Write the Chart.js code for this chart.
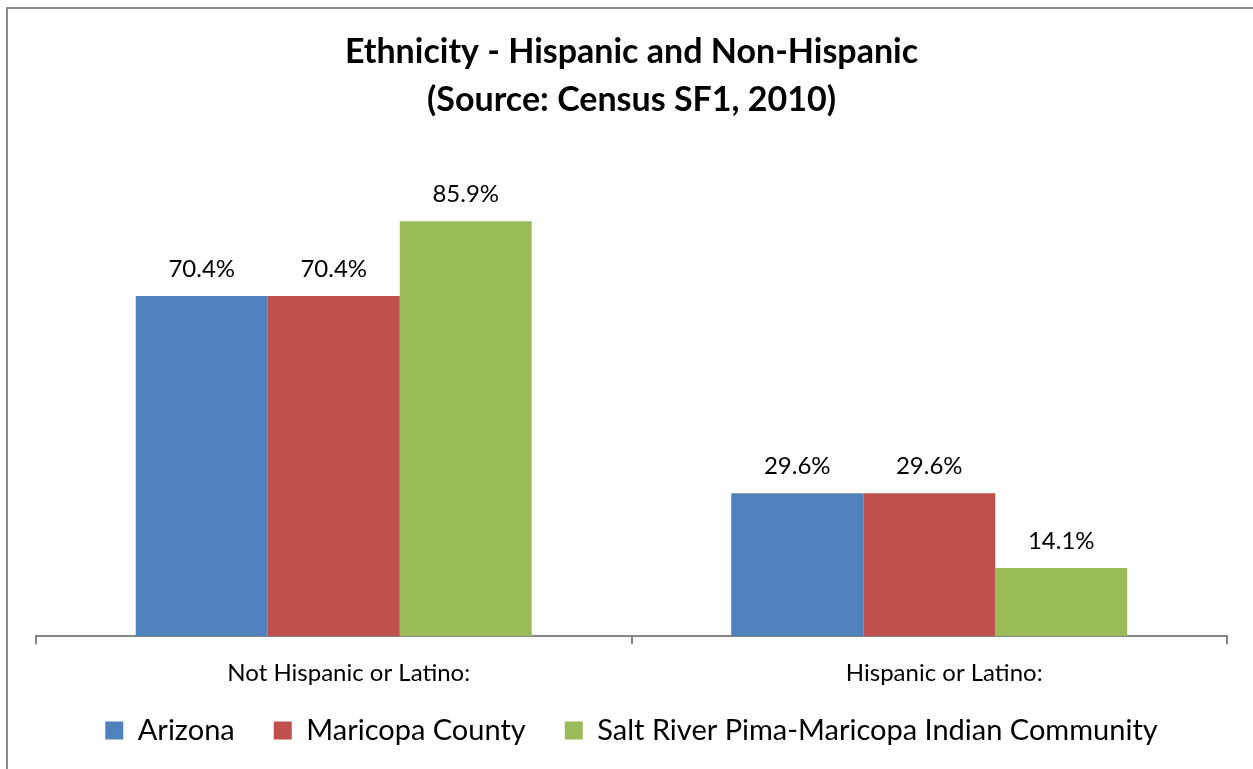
<!DOCTYPE html>
<html>
<head>
<meta charset="utf-8">
<script src="https://cdn.jsdelivr.net/npm/chart.js@4"></script>
<style>
  body { margin: 0; background: #fff; }
  #wrap { position: relative; width: 1253px; height: 769px; overflow: hidden; }
  #frame { position: absolute; left: 6px; top: 7px; width: 1400px; height: 900px; border: 2px solid #8c8c8c; }
  #myChart { position: absolute; left: 0; top: 0; }
</style>
</head>
<body>
<div id="wrap">
  <div id="frame"></div>
  <canvas id="myChart" width="1253" height="769"></canvas>
</div>
<script>
const categories = ['Not Hispanic or Latino:', 'Hispanic or Latino:']
const seriesNames = ['Arizona', 'Maricopa County', 'Salt River Pima-Maricopa Indian Community']
const arizona = [70.4, 29.6]
const maricopa = [70.4, 29.6]
const saltRiver = [85.9, 14.1]
const colors = ['#4F81BD', '#C0504D', '#9BBB59']
const titleLines = ['Ethnicity - Hispanic and Non-Hispanic', '(Source: Census SF1, 2010)']

const FONT = "Lato, Calibri, 'Liberation Sans', sans-serif"
const LEGEND_LIFT = 26

// write the value above each bar
const valueLabels = {
  id: 'valueLabels',
  afterDatasetsDraw(chart) {
    const c = chart.ctx
    c.save()
    c.font = '24px ' + FONT
    c.fillStyle = '#000'
    c.textAlign = 'center'
    c.textBaseline = 'middle'
    chart.data.datasets.forEach(function (ds, i) {
      chart.getDatasetMeta(i).data.forEach(function (bar, j) {
        c.fillText(ds.data[j].toFixed(1) + '%', bar.x, bar.y - 27)
      })
    })
    c.restore()
  }
}

// legend takes less room in the layout, then its top is moved back up
const legendSqueeze = {
  id: 'legendSqueeze',
  afterInit(chart) {
    const lg = chart.legend
    const fit = lg.fit
    lg.fit = function () {
      fit.call(this)
      this.height -= LEGEND_LIFT
    }
  },
  afterLayout(chart) {
    chart.legend.top -= LEGEND_LIFT
  }
}

const ctx = document.getElementById('myChart')
new Chart(ctx, {
  type: 'bar',
  data: {
    labels: categories,
    datasets: [arizona, maricopa, saltRiver].map(function (d, i) {
      return {
        label: seriesNames[i],
        data: d,
        backgroundColor: colors[i],
        borderWidth: 0,
        categoryPercentage: 0.665,
        barPercentage: 1.0
      }
    })
  },
  options: {
    responsive: false,
    animation: false,
    layout: { padding: { left: 36, right: 26, top: 28, bottom: 14 } },
    plugins: {
      title: {
        display: true,
        text: titleLines,
        color: '#000',
        font: { family: FONT, size: 34, weight: 'bold', lineHeight: 48 / 34 },
        padding: { top: 0, bottom: 29 }
      },
      legend: {
        position: 'bottom',
        labels: {
          color: '#000',
          font: { family: FONT, size: 29 },
          boxWidth: 18,
          boxHeight: 18,
          padding: 39
        }
      },
      tooltip: { enabled: false }
    },
    scales: {
      x: {
        grid: {
          drawOnChartArea: false,
          tickLength: 8,
          color: '#868686',
          lineWidth: 2
        },
        border: { color: '#868686', width: 2 },
        ticks: {
          color: '#000',
          font: { family: FONT, size: 24 },
          padding: 15,
          labelOffset: 15
        }
      },
      y: {
        display: false,
        min: 0,
        max: 100
      }
    }
  },
  plugins: [valueLabels, legendSqueeze]
})
</script>
</body>
</html>
